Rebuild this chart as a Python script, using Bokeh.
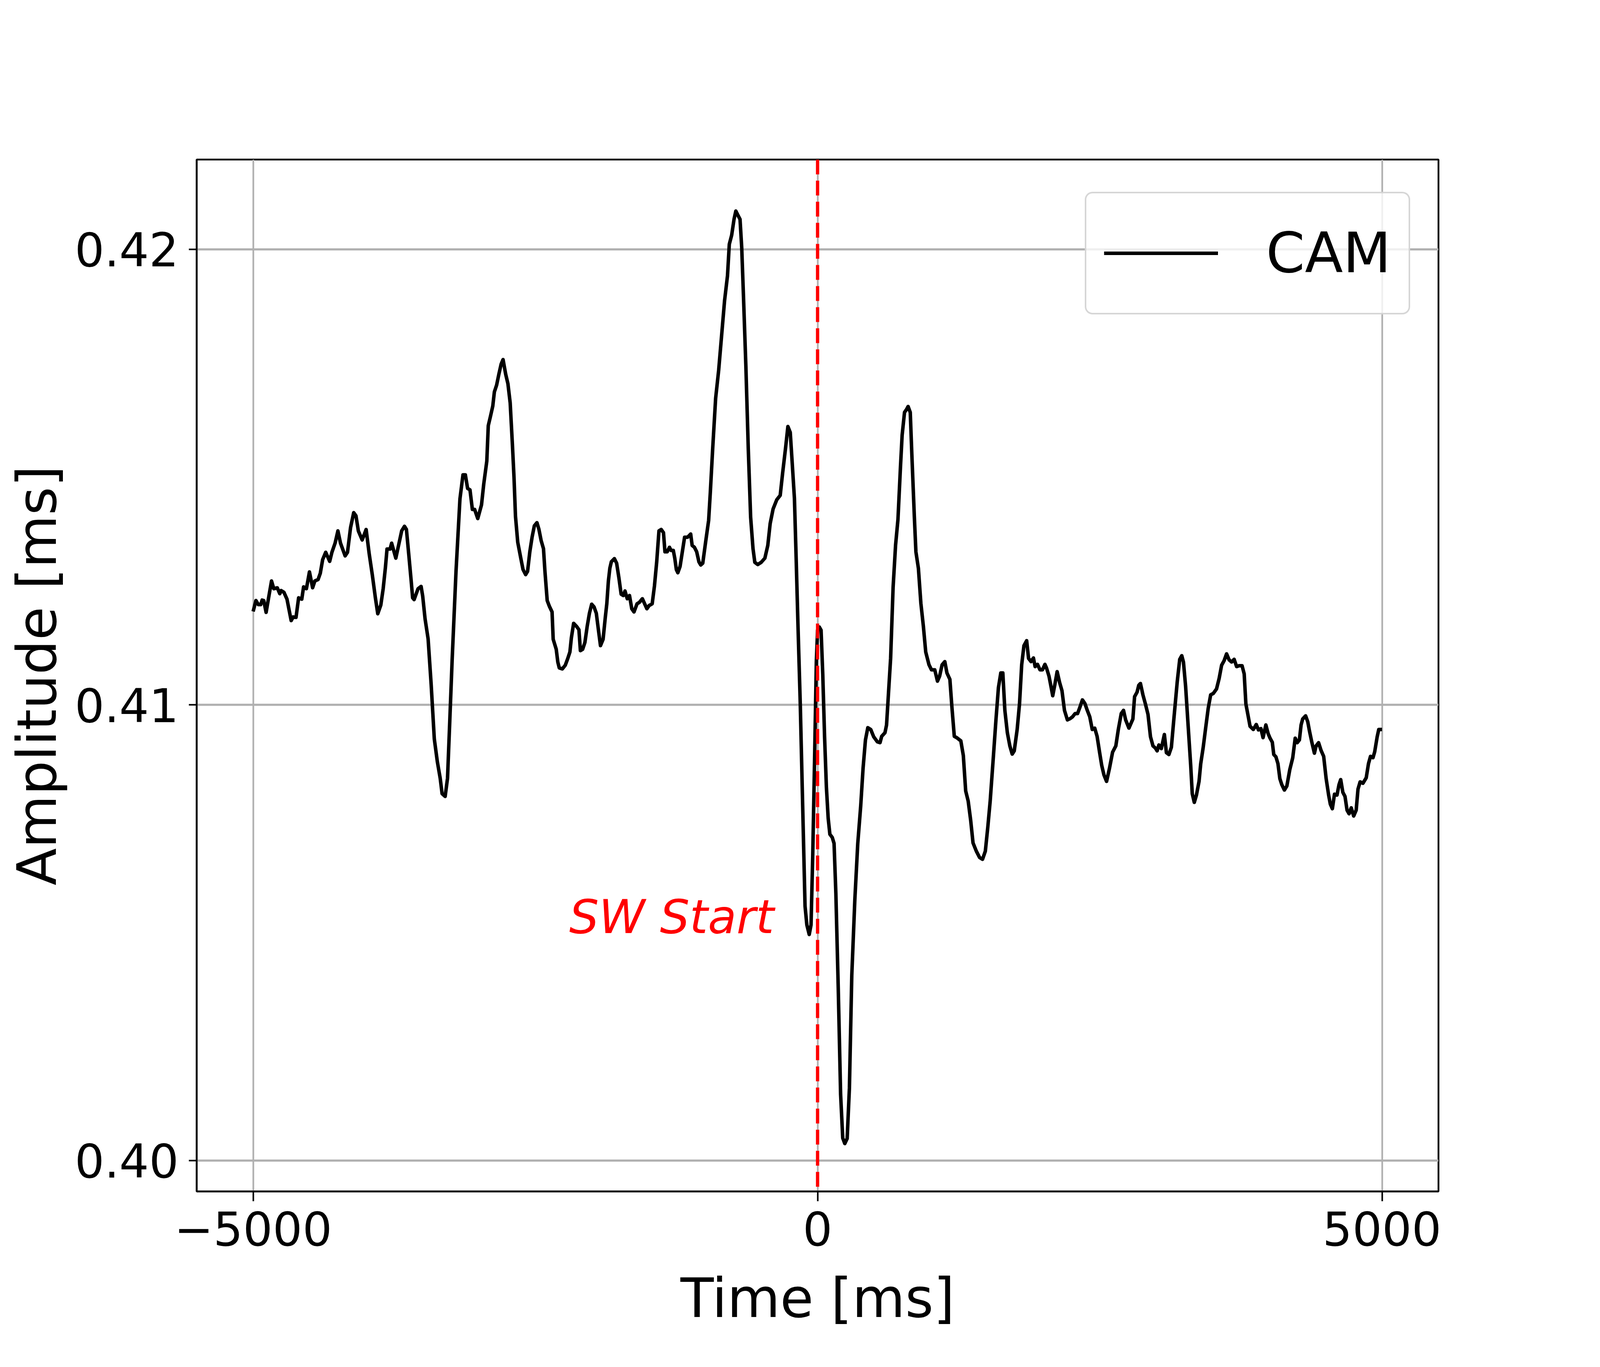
from bokeh.plotting import figure
from bokeh.models import Range1d, FixedTicker, Span, Legend, LegendItem, Label, NumeralTickFormatter
from bokeh.embed import file_html
from bokeh.resources import INLINE

# ---- data ----
time_ms = [
    -5000, -4975, -4954, -4933, -4920, -4906, -4885, -4865, -4837, -4817, -4786, -4764, -4752, -4727,
    -4700, -4663, -4645, -4620, -4597, -4569, -4553, -4528, -4501, -4473, -4453, -4425, -4405, -4384,
    -4357, -4322, -4302, -4274, -4249, -4226, -4185, -4164, -4137, -4109, -4089, -4068, -4034, -3999,
    -3972, -3944, -3917, -3896, -3869, -3848, -3828, -3814, -3787, -3773, -3736, -3704, -3684, -3659,
    -3642, -3622, -3601, -3587, -3574, -3539, -3512, -3498, -3477, -3450, -3423, -3395, -3368, -3343,
    -3326, -3299, -3278, -3258, -3237, -3203, -3168, -3141, -3120, -3100, -3079, -3058, -3038, -3010,
    -2977, -2957, -2930, -2917, -2897, -2877, -2863, -2843, -2823, -2803, -2786, -2763, -2743, -2723,
    -2703, -2689, -2676, -2656, -2629, -2609, -2586, -2569, -2549, -2529, -2509, -2486, -2469, -2449,
    -2428, -2415, -2395, -2375, -2352, -2342, -2315, -2301, -2288, -2261, -2235, -2214, -2194, -2181,
    -2161, -2134, -2114, -2101, -2081, -2061, -2041, -2021, -2001, -1980, -1960, -1940, -1923, -1900,
    -1880, -1867, -1853, -1840, -1827, -1800, -1780, -1760, -1740, -1720, -1706, -1686, -1666, -1646,
    -1626, -1599, -1579, -1552, -1532, -1512, -1492, -1465, -1445, -1425, -1405, -1385, -1365, -1352,
    -1332, -1312, -1298, -1278, -1265, -1251, -1238, -1218, -1198, -1178, -1151, -1124, -1111, -1091,
    -1071, -1051, -1035, -1017, -992, -965, -950, -929, -903, -876, -850, -824, -798, -782,
    -761, -740, -724, -708, -687, -672, -656, -635, -614, -593, -572, -556, -530, -499,
    -467, -441, -420, -394, -362, -331, -310, -284, -263, -242, -226, -205, -189, -174,
    -153, -132, -111, -95, -74, -58, -43, -27, -11, 0, 15, 31, 46, 62,
    78, 94, 109, 130, 146, 162, 183, 204, 223, 241, 262, 282, 303, 330,
    356, 382, 403, 424, 445, 471, 497, 529, 553, 568, 597, 611, 626, 647,
    669, 691, 712, 734, 749, 770, 789, 802, 821, 835, 857, 871, 893, 915,
    937, 958, 987, 1009, 1038, 1062, 1081, 1103, 1127, 1146, 1172, 1190, 1211, 1233,
    1269, 1291, 1312, 1334, 1356, 1377, 1406, 1435, 1461, 1486, 1508, 1529, 1558, 1580,
    1602, 1623, 1641, 1659, 1681, 1703, 1724, 1742, 1768, 1789, 1808, 1828, 1852, 1869,
    1891, 1912, 1927, 1948, 1970, 1992, 2014, 2028, 2050, 2064, 2083, 2100, 2122, 2144,
    2165, 2187, 2213, 2238, 2259, 2281, 2303, 2324, 2346, 2368, 2389, 2411, 2433, 2455,
    2476, 2498, 2517, 2537, 2560, 2585, 2613, 2642, 2664, 2690, 2710, 2729, 2758, 2793,
    2808, 2830, 2845, 2860, 2882, 2904, 2927, 2949, 2971, 2993, 3008, 3023, 3045, 3072,
    3090, 3112, 3134, 3156, 3186, 3208, 3226, 3241, 3260, 3282, 3305, 3319, 3337, 3356,
    3379, 3394, 3416, 3438, 3460, 3482, 3505, 3534, 3557, 3579, 3601, 3623, 3645, 3668,
    3690, 3712, 3734, 3760, 3779, 3794, 3816, 3831, 3860, 3886, 3905, 3927, 3946, 3971,
    3991, 4008, 4028, 4041, 4060, 4078, 4095, 4112, 4135, 4157, 4183, 4209, 4231, 4249,
    4268, 4283, 4297, 4323, 4342, 4357, 4379, 4401, 4416, 4438, 4460, 4483, 4505, 4527,
    4542, 4560, 4579, 4601, 4619, 4634, 4653, 4672, 4690, 4708, 4727, 4749, 4771, 4787,
    4806, 4831, 4860, 4880, 4898, 4920, 4935, 4957, 4971, 5000,
]

amplitude_ms = [
    .41205, .41229, .41220, .41220, .41230, .41229, .41203, .41232, .41272, .41255, .41257, .41244, .41251, .41247,
    .41232, .41185, .41193, .41192, .41235, .41232, .41259, .41255, .41292, .41257, .41272, .41275, .41289, .41319,
    .41335, .41315, .41335, .41355, .41382, .41355, .41327, .41335, .41389, .41422, .41415, .41382, .41362, .41385,
    .41332, .41285, .41235, .41200, .41219, .41255, .41302, .41342, .41342, .41355, .41322, .41359, .41382, .41392,
    .41385, .41332, .41275, .41235, .41231, .41255, .41260, .41239, .41189, .41145, .41045, .40925, .40875, .40839,
    .40805, .40799, .40839, .40965, .41099, .41292, .41452, .41505, .41505, .41475, .41472, .41429, .41429, .41409,
    .41439, .41485, .41535, .41613, .41634, .41656, .41687, .41702, .41726, .41748, .41758, .41726, .41705, .41663,
    .41570, .41499, .41414, .41357, .41322, .41297, .41286, .41293, .41336, .41368, .41393, .41400, .41386, .41361,
    .41343, .41293, .41229, .41216, .41204, .41144, .41122, .41094, .41081, .41079, .41087, .41101, .41116, .41147,
    .41179, .41172, .41165, .41119, .41122, .41137, .41172, .41201, .41221, .41215, .41201, .41162, .41130, .41144,
    .41193, .41222, .41272, .41300, .41314, .41321, .41311, .41279, .41243, .41240, .41250, .41233, .41240, .41211,
    .41204, .41222, .41225, .41233, .41222, .41211, .41218, .41222, .41261, .41314, .41382, .41385, .41378, .41336,
    .41336, .41346, .41339, .41339, .41322, .41297, .41290, .41304, .41336, .41368, .41368, .41375, .41350, .41346,
    .41336, .41314, .41307, .41311, .41357, .41405, .41467, .41563, .41673, .41735, .41811, .41887, .41942, .42011,
    .42031, .42066, .42084, .42076, .42066, .42004, .41894, .41742, .41563, .41412, .41343, .41313, .41308, .41313,
    .41322, .41350, .41398, .41430, .41450, .41460, .41508, .41563, .41611, .41598, .41536, .41453, .41315, .41178,
    .40999, .40778, .40558, .40517, .40496, .40517, .40668, .40875, .41095, .41164, .41171, .41164, .41067, .40930,
    .40820, .40751, .40716, .40709, .40696, .40586, .40379, .40145, .40049, .40037, .40048, .40159, .40406, .40572,
    .40696, .40778, .40861, .40923, .40950, .40946, .40930, .40919, .40917, .40931, .40939, .40956, .41017, .41102,
    .41258, .41351, .41407, .41521, .41592, .41642, .41649, .41655, .41642, .41550, .41414, .41336, .41300, .41223,
    .41173, .41116, .41088, .41077, .41077, .41052, .41063, .41088, .41095, .41070, .41056, .40995, .40931, .40928,
    .40921, .40889, .40811, .40789, .40747, .40697, .40679, .40665, .40661, .40679, .40732, .40789, .40889, .40967,
    .41038, .41070, .41070, .40988, .40939, .40910, .40892, .40899, .40946, .41003, .41088, .41130, .41141, .41102,
    .41095, .41103, .41084, .41089, .41077, .41077, .41089, .41081, .41063, .41045, .41020, .41042, .41073, .41049,
    .41031, .40988, .40967, .40970, .40974, .40981, .40981, .40995, .41011, .41003, .40988, .40974, .40946, .40949,
    .40931, .40896, .40867, .40846, .40832, .40860, .40896, .40910, .40946, .40981, .40988, .40967, .40949, .40969,
    .41018, .41028, .41043, .41047, .41022, .41002, .40979, .40930, .40910, .40905, .40899, .40912, .40904, .40935,
    .40895, .40891, .40907, .40969, .41051, .41100, .41108, .41094, .41041, .40956, .40868, .40805, .40786, .40802,
    .40832, .40871, .40907, .40950, .40992, .41022, .41025, .41035, .41058, .41087, .41097, .41112, .41099, .41094,
    .41100, .41084, .41086, .41086, .41068, .41002, .40973, .40953, .40946, .40957, .40945, .40948, .40928, .40956,
    .40937, .40927, .40918, .40891, .40886, .40871, .40838, .40825, .40813, .40822, .40858, .40884, .40927, .40917,
    .40923, .40956, .40969, .40976, .40963, .40943, .40917, .40894, .40910, .40917, .40900, .40887, .40838, .40802,
    .40782, .40772, .40804, .40802, .40825, .40836, .40808, .40799, .40769, .40761, .40774, .40756, .40769, .40815,
    .40831, .40828, .40840, .40871, .40887, .40884, .40897, .40930, .40946, .40946,
]

x_ticks = [-5000, 0, 5000]
x_tick_labels = ["\u22125000", "0", "5000"]
y_ticks = [0.40, 0.41, 0.42]
series_name = "CAM"
event_time = 0
event_label = "SW Start"
event_label_pos = (-2200, 0.40535)

FONT = "DejaVu Sans"
SX = 4096 / 5000.0      # horizontal CSS px per reference pixel
SY = 1.0                # vertical CSS px per reference pixel


def hx(v):
    return v * SX


def vy(v):
    return v * SY


W, H = 4080, 3484
left = round(hx(624) - 8)
right = round(hx(4504) - 8)
top = round(vy(416) - 8)
bottom = round(vy(3058) - 8)

p = figure(
    width=W, height=H,
    output_backend="svg", toolbar_location=None,
    x_range=Range1d(-5500, 5500), y_range=Range1d(0.39932, 0.42197),
    min_border_left=left, min_border_right=W - right,
    min_border_top=top, min_border_bottom=H - bottom,
)
p.background_fill_color = "white"
p.border_fill_color = "white"
p.outline_line_color = "black"
p.outline_line_width = 4.5

p.xaxis.ticker = FixedTicker(ticks=x_ticks)
p.xaxis.major_label_overrides = {t: s for t, s in zip(x_ticks, x_tick_labels)}
p.yaxis.ticker = FixedTicker(ticks=y_ticks)
p.yaxis.formatter = NumeralTickFormatter(format="0.00")
p.xaxis.axis_label = "Time [ms]"
p.yaxis.axis_label = "Amplitude [ms]"

for ax in (p.xaxis[0], p.yaxis[0]):
    ax.major_label_text_font = FONT
    ax.major_label_text_font_size = f"{hx(146):.1f}px"
    ax.major_label_text_color = "black"
    ax.axis_label_text_font = FONT
    ax.axis_label_text_font_size = f"{hx(170):.1f}px"
    ax.axis_label_text_font_style = "normal"
    ax.axis_label_text_color = "black"
    ax.major_tick_in = 0
    ax.major_tick_line_width = 4
    ax.major_tick_line_color = "black"
    ax.minor_tick_line_color = None
    ax.axis_line_color = "black"
    ax.axis_line_width = 4.5

p.xaxis.major_tick_out = round(vy(25))
p.yaxis.major_tick_out = round(hx(25))
p.xaxis.major_label_standoff = 25
p.xaxis.axis_label_standoff = 51
p.yaxis.major_label_standoff = 26
p.yaxis.axis_label_standoff = 12

for g in (p.xgrid, p.ygrid):
    g.grid_line_color = "#b0b0b0"
p.xgrid.grid_line_width = hx(5.3)
p.ygrid.grid_line_width = vy(5.3)

r = p.line(time_ms, amplitude_ms, line_color="black", line_width=9, line_join="round")

p.add_layout(Span(location=event_time, dimension="height", line_color="red",
                  line_dash=f"{vy(38):.0f} {vy(16.5):.0f}", line_width=hx(10.3)))

p.add_layout(Label(x=event_label_pos[0], y=event_label_pos[1], text=event_label,
                   text_color="red", text_font=FONT, text_font_style="italic",
                   text_font_size=f"{hx(146):.1f}px", text_align="left",
                   text_baseline="alphabetic"))

# legend box: reference x 3400..4420, y 507..813 (reference pixels)
leg_pad = round(hx(55))
leg_item_h = round(vy(306)) - 2 * leg_pad
legend = Legend(items=[LegendItem(label=series_name, renderers=[r])],
                location=(round(hx(3400 - 624)), round(vy(3058 - 813))))
legend.margin = 0
legend.label_text_font = FONT
legend.label_text_font_size = f"{hx(174):.1f}px"
legend.label_text_color = "black"
legend.glyph_width = round(hx(357))
legend.glyph_height = leg_item_h
legend.label_height = leg_item_h
legend.label_standoff = round(hx(150))
legend.padding = leg_pad
legend.spacing = 0
legend.border_line_color = "#cccccc"
legend.border_line_alpha = 0.8
legend.border_line_width = 4.5
legend.background_fill_color = "white"
legend.background_fill_alpha = 0.8
if "border_radius" in Legend.properties():
    legend.border_radius = 20
p.add_layout(legend)

open("out.html", "w").write(file_html(p, INLINE))
